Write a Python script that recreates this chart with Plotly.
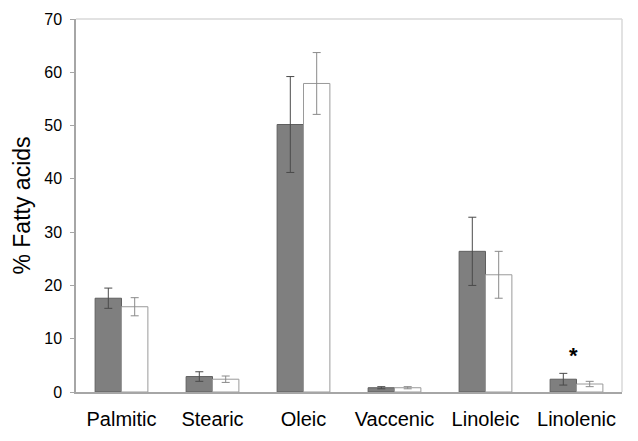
import plotly.graph_objects as go

categories = ["Palmitic", "Stearic", "Oleic", "Vaccenic", "Linoleic", "Linolenic"]
group1_values = [17.6, 2.9, 50.2, 0.8, 26.4, 2.4]
group1_errors = [1.9, 0.9, 9.0, 0.2, 6.4, 1.1]
group2_values = [16.0, 2.4, 57.9, 0.8, 22.0, 1.5]
group2_errors = [1.7, 0.6, 5.8, 0.2, 4.4, 0.5]
y_ticks = [0, 10, 20, 30, 40, 50, 60, 70]
significance_category = "Linolenic"
significance_y = 6.8

fig = go.Figure()
fig.add_trace(go.Bar(
    x=categories, y=group1_values,
    marker=dict(color="#7f7f7f", line=dict(color="#5f5f5f", width=1)),
    error_y=dict(type="data", array=group1_errors, color="#4a4a4a", thickness=1, width=4),
    showlegend=False,
))
fig.add_trace(go.Bar(
    x=categories, y=group2_values,
    marker=dict(color="#ffffff", line=dict(color="#9a9a9a", width=1)),
    error_y=dict(type="data", array=group2_errors, color="#8a8a8a", thickness=1, width=4),
    showlegend=False,
))
fig.add_annotation(
    x=significance_category, y=significance_y, text="<b>*</b>", showarrow=False,
    font=dict(size=22, color="#000000", family="Liberation Sans, Arial"),
    xshift=-3,
)
# page body has an 8px margin, so the figure is sized to land the plot area where the reference has it
fig.update_layout(
    width=630, height=433,
    margin=dict(l=68, r=16, t=11, b=49),
    paper_bgcolor="white", plot_bgcolor="white",
    barmode="group", bargap=0.42, bargroupgap=0,
    font=dict(family="Liberation Sans, Arial", color="#000000"),
    xaxis=dict(
        showline=True, linecolor="#a6a6a6", linewidth=1.5, mirror=False,
        ticks="", tickfont=dict(size=20), ticklabelstandoff=8,
        showgrid=False, automargin=False,
    ),
    yaxis=dict(
        range=[0, 70], tickvals=y_ticks, showline=True, linecolor="#a6a6a6", linewidth=1.5,
        ticks="outside", ticklen=4, tickcolor="#a6a6a6", tickfont=dict(size=16),
        ticklabelstandoff=5, automargin=False,
        showgrid=False, zeroline=False,
        title=dict(text="% Fatty acids", font=dict(size=23), standoff=7),
    ),
    shapes=[
        dict(type="line", xref="paper", yref="paper", x0=0, x1=1, y0=1, y1=1,
             line=dict(color="#d9d9d9", width=1.5)),
        dict(type="line", xref="paper", yref="paper", x0=1, x1=1, y0=0, y1=1,
             line=dict(color="#d9d9d9", width=1.5)),
    ],
)
fig.write_html("out.html")
